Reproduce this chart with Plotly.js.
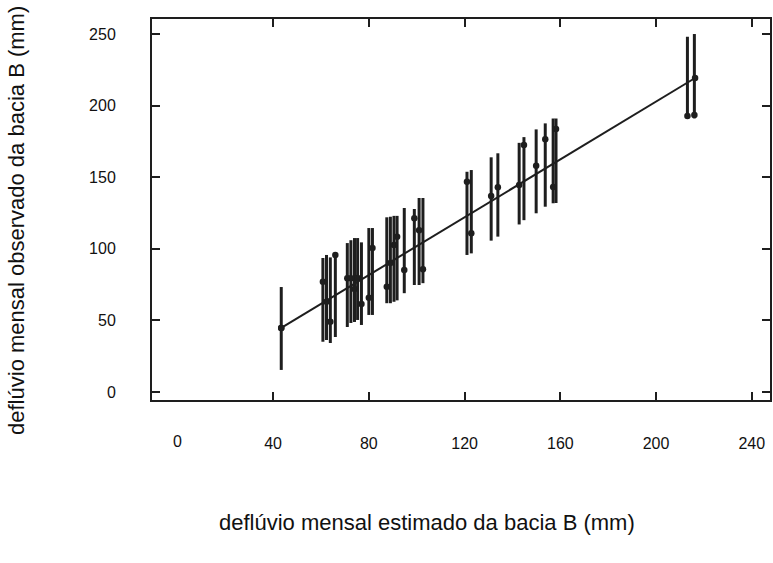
<!DOCTYPE html>
<html>
<head>
<meta charset="utf-8">
<script src="https://cdn.plot.ly/plotly-3.0.1.min.js"></script>
<style>
html,body{margin:0;padding:0;background:#fff;}
#chart{width:773px;height:563px;}
</style>
</head>
<body>
<div id="chart"></div>
<script>
// estimated monthly runoff (x), observed monthly runoff (dots), interval low/high (bars)
var estimado = [43.4, 60.8, 62.3, 63.9, 66.0, 71.0, 72.5, 74.0, 75.3, 76.9, 80.0, 81.5, 87.5, 89.0, 90.5, 91.8, 94.8, 99.0, 101.0, 102.6, 121.0, 122.8, 131.1, 133.9, 142.8, 144.8, 149.9, 153.7, 157.0, 158.2, 213.1, 216.0];
var observado = [44.7, 77.0, 63.0, 49.1, 95.7, 79.4, 79.4, 72.0, 79.6, 61.5, 65.9, 100.6, 73.5, 90.0, 102.7, 108.5, 85.2, 121.3, 113.0, 85.7, 146.9, 110.8, 136.9, 143.0, 144.6, 172.5, 158.0, 176.5, 143.2, 183.7, 192.7, 193.4];
var limInf = [15.4, 35.1, 36.3, 34.2, 38.4, 45.4, 48.2, 48.9, 50.3, 46.8, 53.8, 53.8, 62.0, 62.0, 63.0, 64.0, 69.0, 74.7, 74.7, 76.0, 95.7, 96.8, 105.7, 108.5, 117.0, 120.0, 124.8, 129.4, 131.8, 132.0, 192.2, 191.1];
var limSup = [73.3, 93.6, 95.7, 94.0, 97.1, 104.0, 106.0, 107.5, 107.5, 104.5, 114.5, 114.5, 122.0, 122.4, 123.0, 123.0, 128.5, 127.8, 135.5, 135.5, 153.8, 155.0, 163.9, 166.7, 174.0, 178.0, 183.4, 187.6, 191.0, 191.0, 248.1, 250.0];
// fitted line end points
var retaX = [43.4, 216.3];
var retaY = [44.7, 219.3];
// tick labels
var xTicks = [40, 80, 120, 160, 200, 240];
var yTicks = [0, 50, 100, 150, 200, 250];

var errPlus = observado.map(function(v, i){ return limSup[i] - v; });
var errMinus = observado.map(function(v, i){ return v - limInf[i]; });

var ink = '#1e1e1e';
var traces = [
  {
    x: estimado, y: observado, type: 'scatter', mode: 'markers',
    marker: {size: 6.5, color: ink},
    error_y: {type: 'data', symmetric: false, array: errPlus, arrayminus: errMinus,
              thickness: 3, width: 0, color: ink},
    showlegend: false, hoverinfo: 'x+y'
  },
  {
    x: retaX, y: retaY, type: 'scatter', mode: 'lines+markers',
    line: {color: ink, width: 2}, marker: {size: 6.5, color: ink},
    showlegend: false
  }
];

var font = {family: 'Liberation Sans, Arial, sans-serif', color: '#111'};
var layout = {
  width: 773, height: 563,
  margin: {l: 152, r: 3, t: 19, b: 163},
  paper_bgcolor: '#ffffff', plot_bgcolor: '#ffffff',
  font: font,
  xaxis: {
    range: [-10.6, 247.6], tickvals: xTicks, ticktext: xTicks.map(String),
    showgrid: false, zeroline: false, showline: true, linecolor: ink, linewidth: 2,
    mirror: 'ticks', ticks: 'inside', ticklen: 8, tickwidth: 2, tickcolor: ink,
    ticklabelstandoff: 28, tickfont: {size: 16, family: font.family, color: '#111'}
  },
  yaxis: {
    range: [-5.6, 260.5], tickvals: yTicks, ticktext: yTicks.map(String),
    showgrid: false, zeroline: false, showline: true, linecolor: ink, linewidth: 2,
    mirror: 'ticks', ticks: 'inside', ticklen: 8, tickwidth: 2, tickcolor: ink,
    ticklabelstandoff: 31, tickfont: {size: 16, family: font.family, color: '#111'}
  },
  annotations: [
    {text: '0', x: 0, xref: 'x', y: -0.108, yref: 'paper', xanchor: 'center', yanchor: 'middle',
     showarrow: false, font: {size: 16, family: font.family, color: '#111'}},
    {text: 'deflúvio mensal estimado da bacia B (mm)', x: 0.445, xref: 'paper', y: -0.3228, yref: 'paper',
     xanchor: 'center', yanchor: 'middle', showarrow: false,
     font: {size: 22, family: font.family, color: '#111'}},
    {text: 'deflúvio mensal observado da bacia B (mm)', x: -0.2184, xref: 'paper', y: 0.47, yref: 'paper',
     xanchor: 'center', yanchor: 'middle', textangle: -90, showarrow: false,
     font: {size: 22, family: font.family, color: '#111'}}
  ]
};

Plotly.newPlot('chart', traces, layout, {displayModeBar: false, staticPlot: true});
</script>
</body>
</html>
